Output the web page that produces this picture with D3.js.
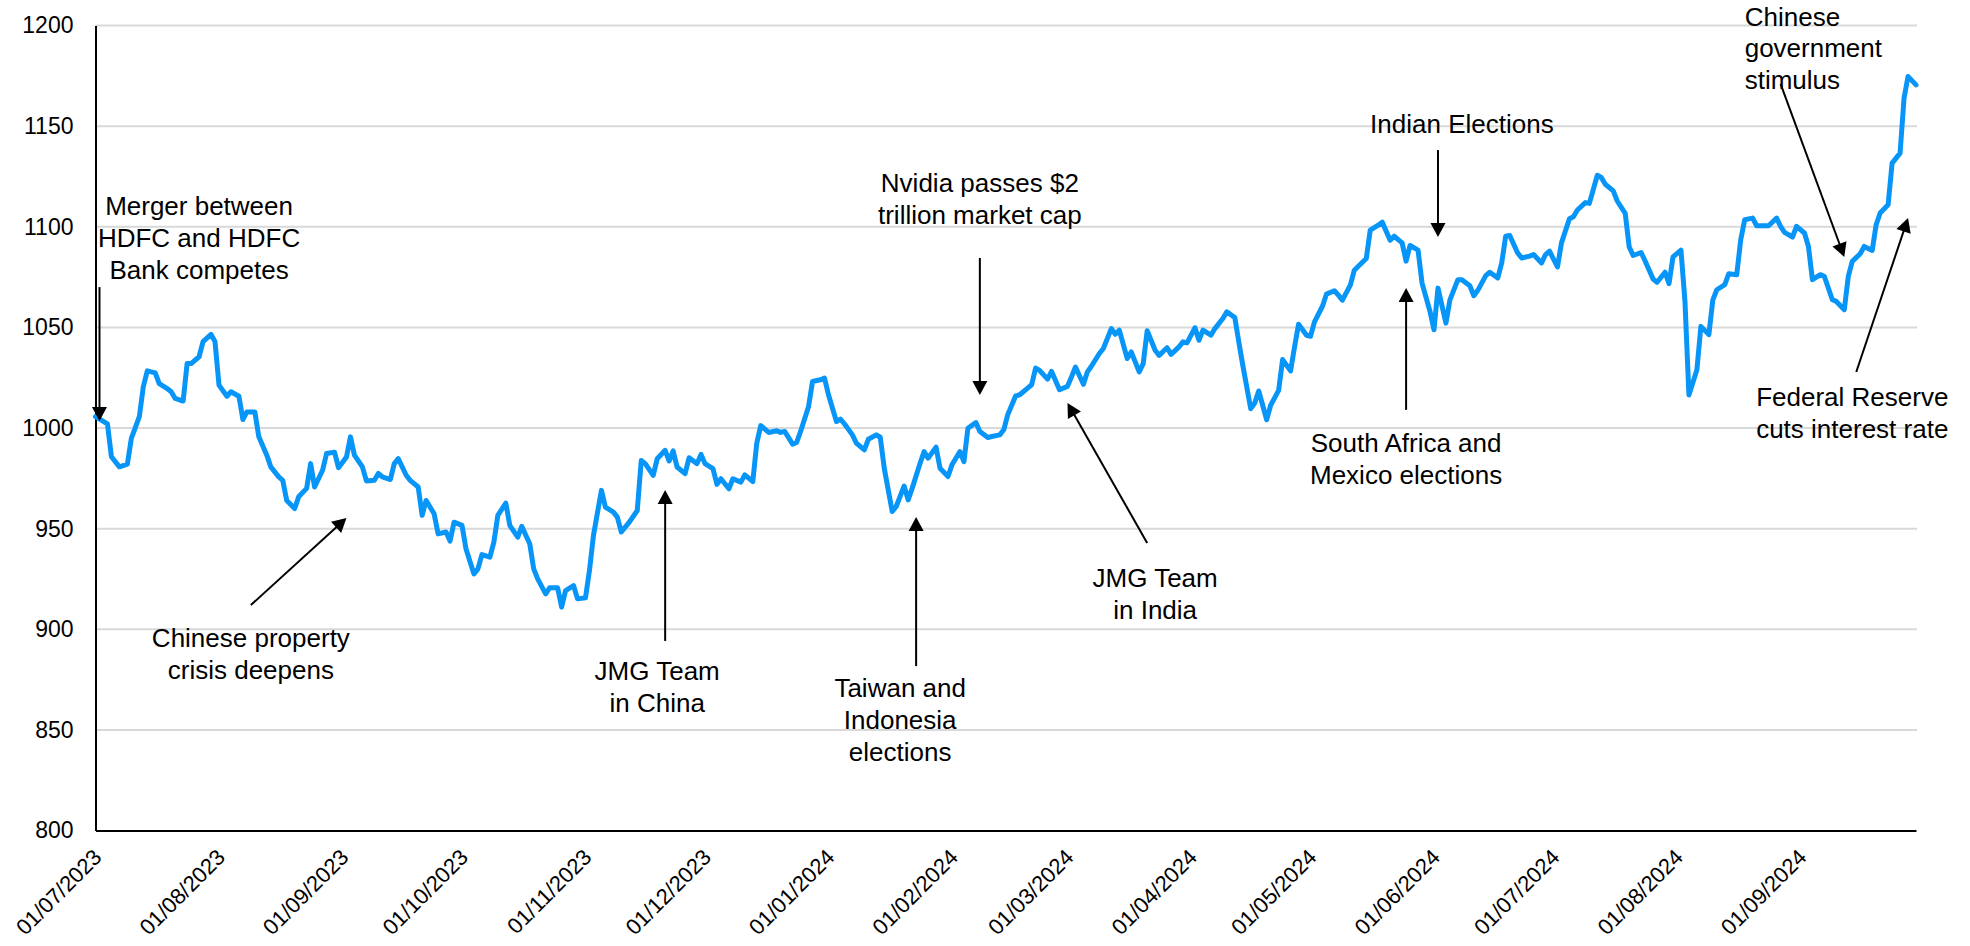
<!DOCTYPE html>
<html>
<head>
<meta charset="utf-8">
<script src="https://cdn.jsdelivr.net/npm/d3@7"></script>
<style>
  html, body { margin: 0; padding: 0; background: #ffffff; }
  svg { display: block; }
  text { font-family: "Liberation Sans", Arial, sans-serif; fill: #000; }
</style>
</head>
<body>
<svg id="chart" width="1970" height="946"></svg>
<script>
// ---------------- DATA ----------------
const dates = [
  "2023-07-01","2023-07-04","2023-07-05","2023-07-07","2023-07-09","2023-07-10","2023-07-12","2023-07-13","2023-07-14","2023-07-16","2023-07-17","2023-07-19","2023-07-20","2023-07-21","2023-07-23","2023-07-24","2023-07-25","2023-07-27","2023-07-28","2023-07-30","2023-07-31",
  "2023-08-01","2023-08-03","2023-08-04","2023-08-06","2023-08-07","2023-08-08","2023-08-10","2023-08-11","2023-08-13","2023-08-14","2023-08-16","2023-08-17","2023-08-18","2023-08-20","2023-08-21","2023-08-23","2023-08-24","2023-08-25","2023-08-27","2023-08-28","2023-08-30","2023-08-31",
  "2023-09-02","2023-09-03","2023-09-04","2023-09-06","2023-09-07","2023-09-09","2023-09-10","2023-09-11","2023-09-13","2023-09-14","2023-09-15","2023-09-17","2023-09-18","2023-09-20","2023-09-21","2023-09-22","2023-09-24","2023-09-25","2023-09-27","2023-09-28","2023-09-29",
  "2023-10-01","2023-10-02","2023-10-04","2023-10-05","2023-10-06","2023-10-08","2023-10-09","2023-10-10","2023-10-12","2023-10-13","2023-10-15","2023-10-16","2023-10-18","2023-10-19","2023-10-20","2023-10-22","2023-10-23","2023-10-25","2023-10-26","2023-10-27","2023-10-29","2023-10-30",
  "2023-11-01","2023-11-02","2023-11-03","2023-11-05","2023-11-06","2023-11-08","2023-11-09","2023-11-10","2023-11-12","2023-11-14","2023-11-15","2023-11-16","2023-11-18","2023-11-19","2023-11-21","2023-11-22","2023-11-23","2023-11-24","2023-11-26","2023-11-27","2023-11-29","2023-11-30",
  "2023-12-01","2023-12-03","2023-12-04","2023-12-05","2023-12-07","2023-12-08","2023-12-10","2023-12-11","2023-12-13","2023-12-14","2023-12-15","2023-12-17","2023-12-19","2023-12-20","2023-12-21","2023-12-23","2023-12-24","2023-12-25","2023-12-27","2023-12-28","2023-12-30","2023-12-31",
  "2024-01-01","2024-01-03","2024-01-04","2024-01-05","2024-01-07","2024-01-08","2024-01-10","2024-01-11","2024-01-13","2024-01-14","2024-01-15","2024-01-17","2024-01-18","2024-01-20","2024-01-21","2024-01-22","2024-01-24","2024-01-25","2024-01-26","2024-01-28","2024-01-29","2024-01-31",
  "2024-02-01","2024-02-03","2024-02-04","2024-02-05","2024-02-07","2024-02-08","2024-02-10","2024-02-11","2024-02-13","2024-02-14","2024-02-15","2024-02-17","2024-02-18","2024-02-20","2024-02-21","2024-02-22","2024-02-23","2024-02-25","2024-02-26","2024-02-28",
  "2024-03-01","2024-03-02","2024-03-03","2024-03-05","2024-03-06","2024-03-07","2024-03-09","2024-03-10","2024-03-12","2024-03-13","2024-03-14","2024-03-16","2024-03-17","2024-03-19","2024-03-20","2024-03-21","2024-03-23","2024-03-24","2024-03-26","2024-03-27","2024-03-29","2024-03-30","2024-03-31",
  "2024-04-02","2024-04-03","2024-04-04","2024-04-06","2024-04-07","2024-04-09","2024-04-10","2024-04-12","2024-04-13","2024-04-14","2024-04-16","2024-04-17","2024-04-18","2024-04-20","2024-04-21","2024-04-23","2024-04-24","2024-04-26","2024-04-27","2024-04-28","2024-04-30",
  "2024-05-01","2024-05-02","2024-05-04","2024-05-05","2024-05-07","2024-05-08","2024-05-09","2024-05-11","2024-05-12","2024-05-13","2024-05-15","2024-05-16","2024-05-18","2024-05-19","2024-05-21","2024-05-22","2024-05-24","2024-05-25","2024-05-26","2024-05-28","2024-05-29","2024-05-31",
  "2024-06-01","2024-06-02","2024-06-04","2024-06-05","2024-06-07","2024-06-08","2024-06-10","2024-06-11","2024-06-12","2024-06-14","2024-06-15","2024-06-17","2024-06-18","2024-06-19","2024-06-20","2024-06-22","2024-06-23","2024-06-25","2024-06-26","2024-06-28","2024-06-29","2024-06-30",
  "2024-07-02","2024-07-03","2024-07-05","2024-07-06","2024-07-07","2024-07-09","2024-07-10","2024-07-12","2024-07-13","2024-07-14","2024-07-16","2024-07-17","2024-07-19","2024-07-20","2024-07-21","2024-07-23","2024-07-24","2024-07-26","2024-07-27","2024-07-29","2024-07-30","2024-07-31",
  "2024-08-02","2024-08-03","2024-08-04","2024-08-06","2024-08-07","2024-08-09","2024-08-10","2024-08-11","2024-08-13","2024-08-14","2024-08-16","2024-08-17","2024-08-18","2024-08-20","2024-08-21","2024-08-23","2024-08-24","2024-08-26","2024-08-27","2024-08-28","2024-08-30","2024-08-31",
  "2024-09-02","2024-09-03","2024-09-04","2024-09-06","2024-09-07","2024-09-09","2024-09-10","2024-09-12","2024-09-13","2024-09-14","2024-09-16","2024-09-17","2024-09-19","2024-09-20","2024-09-21","2024-09-23","2024-09-24","2024-09-26","2024-09-27","2024-09-28","2024-09-30"
];

const values = [
  1005.6,1002,985.7,980.7,982,994.8,1005.6,1020.5,1028.4,1027.4,1022,1019.6,1018,1014.7,1013.4,1032,1032,1035.4,1042.9,1046.5,1042.9,
  1021.3,1015.8,1018,1015.8,1004.2,1008,1008,995.6,986.5,980.7,975.7,974,964,960,965.8,970,982.3,970.7,979,987.3,988,980.3,
  985.6,995.6,986.5,980.7,973.7,974,977.4,975.7,974.4,982.3,984.8,976.5,974,970.7,956.6,964,957.4,947.4,948.3,943.8,953.2,
  951.6,940,927.5,930,937.1,935.8,943.3,956.6,962.7,951.6,945.8,951.1,942.5,930,925,917.6,920.6,920.6,911,919.2,921.7,915.1,
  915.6,929.2,946.6,969,960.7,958.2,955.7,948.3,953.2,959,983.9,982.3,976.5,984.7,988.9,983.6,988.6,980.6,977.3,985.2,982.3,986.9,
  982.3,979.8,972,974.8,969.8,974.8,973.1,976.7,973.4,992.5,1001.2,997.8,998.6,997.8,998.3,992,992.8,998.3,1010.7,1023.1,1024,1024.8,
  1016.5,1003.2,1004.4,1002.1,996.6,992.5,989.1,994.4,996.6,995.4,980,958.5,961,971.2,964.3,970,982.5,988.3,985,990.5,980,975.9,
  981.7,988.3,983.3,999.9,1002.7,998.3,995.3,995.8,996.6,999.1,1006.6,1016,1016.5,1019.8,1021.5,1029.8,1028.6,1024.3,1028.1,1019,
  1020.7,1025.4,1030.3,1021.7,1027.9,1030.7,1037,1039.5,1049.4,1046.6,1048.6,1034.5,1037.8,1027.9,1032,1048.3,1038.6,1036.1,1039.9,1036.6,1040.3,1042.8,1042.3,
  1049.8,1043.6,1048.6,1046.1,1049.4,1054.4,1057.7,1054.9,1042.8,1031.2,1009.6,1012.4,1018.4,1004.1,1011.3,1018.7,1034,1028.4,1040.3,1051.6,1046.1,
  1045.6,1052.7,1060.5,1066.5,1068.2,1066,1063.5,1071,1078.4,1080.4,1084.2,1098.3,1100.8,1102.3,1093.3,1095.3,1092,1082.9,1090.7,1088.4,1072,1057.9,
  1048.8,1069.5,1052.1,1063.7,1073.7,1073.7,1070.7,1065.7,1068.4,1075.7,1077.4,1074.5,1082,1095.3,1095.7,1087,1084.5,1085.4,1086.2,1082,1086.2,1087.9,
  1080,1092,1104,1105,1108.3,1112,1111.6,1125.6,1124.5,1121.1,1117.8,1112.8,1106.7,1090,1085.7,1087.2,1083,1074,1072.4,1077.4,1071.7,1085,
  1088.4,1063,1016.4,1029,1050.5,1046.4,1063.7,1068.7,1071.2,1076.7,1076.2,1093.5,1103.5,1104.3,1100.5,1100.5,1100.5,1104.3,1100.2,1097.2,1094.9,1100.2,
  1096.9,1090.2,1073.7,1076.2,1075.3,1063.7,1062.9,1058.8,1075.3,1082.8,1086.6,1090.2,1088.2,1101,1106.8,1110.9,1131.6,1136.6,1163.9,1174.7,1170.5
];

const yTicks = [800, 850, 900, 950, 1000, 1050, 1100, 1150, 1200];
const xDomain = ["2023-07-01", "2024-09-30"];

// Annotations: text lines + anchor (date, value), arrows from tail to tip in data space
const annotationTexts = [
  ["Merger between", "HDFC and HDFC", "Bank competes"],
  ["Chinese property", "crisis deepens"],
  ["JMG Team", "in China"],
  ["Taiwan and", "Indonesia", "elections"],
  ["Nvidia passes $2", "trillion market cap"],
  ["JMG Team", "in India"],
  ["Indian Elections"],
  ["South Africa and", "Mexico elections"],
  ["Chinese", "government", "stimulus"],
  ["Federal Reserve", "cuts interest rate"]
];
const annotationAnchors = [
  ["2023-07-27", 1105.8, "middle"],
  ["2023-08-09", 891.2, "middle"],
  ["2023-11-19", 874.8, "middle"],
  ["2024-01-19", 866.3, "middle"],
  ["2024-02-08", 1117.3, "middle"],
  ["2024-03-23", 921.0, "middle"],
  ["2024-06-08", 1146.6, "middle"],
  ["2024-05-25", 988.1, "middle"],
  ["2024-08-18", 1200.0, "start"],
  ["2024-09-14", 1011.0, "middle"]
];
const arrowTails = [
  ["2023-07-02", 1070.0],
  ["2023-08-09", 912.0],
  ["2023-11-21", 894.2],
  ["2024-01-23", 881.7],
  ["2024-02-08", 1084.5],
  ["2024-03-21", 942.9],
  ["2024-06-02", 1138.1],
  ["2024-05-25", 1009.0],
  ["2024-08-27", 1171.0],
  ["2024-09-15", 1027.8]
];
const arrowTips = [
  ["2023-07-02", 1003.5],
  ["2023-09-02", 955.3],
  ["2023-11-21", 969.2],
  ["2024-01-23", 955.8],
  ["2024-02-08", 1016.4],
  ["2024-03-01", 1012.4],
  ["2024-06-02", 1094.9],
  ["2024-05-25", 1069.6],
  ["2024-09-12", 1085.0],
  ["2024-09-28", 1104.3]
];

// ---------------- LAYOUT ----------------
const W = 1970, H = 946;
const plot = { left: 95.5, right: 1916, top: 25.5, bottom: 830.5 };
const parse = d3.utcParse("%Y-%m-%d");

const x = d3.scaleUtc()
  .domain(xDomain.map(parse))
  .range([plot.left, plot.right]);
const y = d3.scaleLinear()
  .domain([800, 1200])
  .range([plot.bottom, plot.top]);

const svg = d3.select("#chart");
svg.append("rect").attr("width", W).attr("height", H).attr("fill", "#fff");

// Gridlines
svg.append("g")
  .selectAll("line")
  .data(yTicks.filter(v => v !== 800))
  .join("line")
  .attr("x1", plot.left).attr("x2", plot.right + 1)
  .attr("y1", d => y(d)).attr("y2", d => y(d))
  .attr("stroke", "#d9d9d9").attr("stroke-width", 2);

// Y axis
const yAxis = svg.append("g")
  .attr("transform", `translate(${plot.left},0)`)
  .call(d3.axisLeft(y).tickValues(yTicks).tickSize(0).tickPadding(22).tickFormat(d3.format("d")));
yAxis.select(".domain").attr("stroke", "#000").attr("stroke-width", 2);
yAxis.selectAll("text")
  .attr("font-size", 23)
  .attr("font-family", "'Liberation Sans', Arial, sans-serif")
  .attr("fill", "#000");

// X axis
const monthTicks = d3.utcMonth.range(parse("2023-07-01"), parse("2024-09-02"));
const xAxis = svg.append("g")
  .attr("transform", `translate(0,${plot.bottom})`)
  .call(d3.axisBottom(x).tickValues(monthTicks).tickSize(0).tickFormat(d3.utcFormat("%d/%m/%Y")));
xAxis.select(".domain").attr("stroke", "#000").attr("stroke-width", 2);
xAxis.selectAll(".tick text")
  .attr("font-size", 22)
  .attr("font-family", "'Liberation Sans', Arial, sans-serif")
  .attr("fill", "#000")
  .attr("text-anchor", "end")
  .attr("dy", 0)
  .attr("y", 0)
  .attr("transform", "translate(7,28) rotate(-45)");

// Line
const series = dates.map((d, i) => ({ date: parse(d), value: values[i] }));
svg.append("path")
  .datum(series)
  .attr("fill", "none")
  .attr("stroke", "#0895f8")
  .attr("stroke-width", 5)
  .attr("stroke-linejoin", "round")
  .attr("stroke-linecap", "round")
  .attr("d", d3.line().x(d => x(d.date)).y(d => y(d.value)));

// Annotations
const ann = svg.append("g");
const lineHeight = 31.8;
annotationTexts.forEach((lines, i) => {
  const [dt, val, anchor] = annotationAnchors[i];
  const t = ann.append("text")
    .attr("x", x(parse(dt)))
    .attr("y", y(val))
    .attr("text-anchor", anchor)
    .attr("font-size", 26);
  lines.forEach((ln, j) => {
    t.append("tspan")
      .attr("x", x(parse(dt)))
      .attr("dy", j === 0 ? 0 : lineHeight)
      .text(ln);
  });
});

// Arrows
const headLen = 14, headHalf = 7.5;
arrowTails.forEach((tail, i) => {
  const tip = arrowTips[i];
  const x1 = x(parse(tail[0])), y1 = y(tail[1]);
  const x2 = x(parse(tip[0])), y2 = y(tip[1]);
  const dx = x2 - x1, dy = y2 - y1;
  const len = Math.hypot(dx, dy);
  const ux = dx / len, uy = dy / len;
  const bx = x2 - ux * headLen, by = y2 - uy * headLen;
  ann.append("line")
    .attr("x1", x1).attr("y1", y1)
    .attr("x2", bx + ux * 1).attr("y2", by + uy * 1)
    .attr("stroke", "#000").attr("stroke-width", 2);
  const px = -uy, py = ux;
  ann.append("path")
    .attr("d", `M${x2},${y2}L${bx + px * headHalf},${by + py * headHalf}L${bx - px * headHalf},${by - py * headHalf}Z`)
    .attr("fill", "#000");
});
</script>
</body>
</html>
